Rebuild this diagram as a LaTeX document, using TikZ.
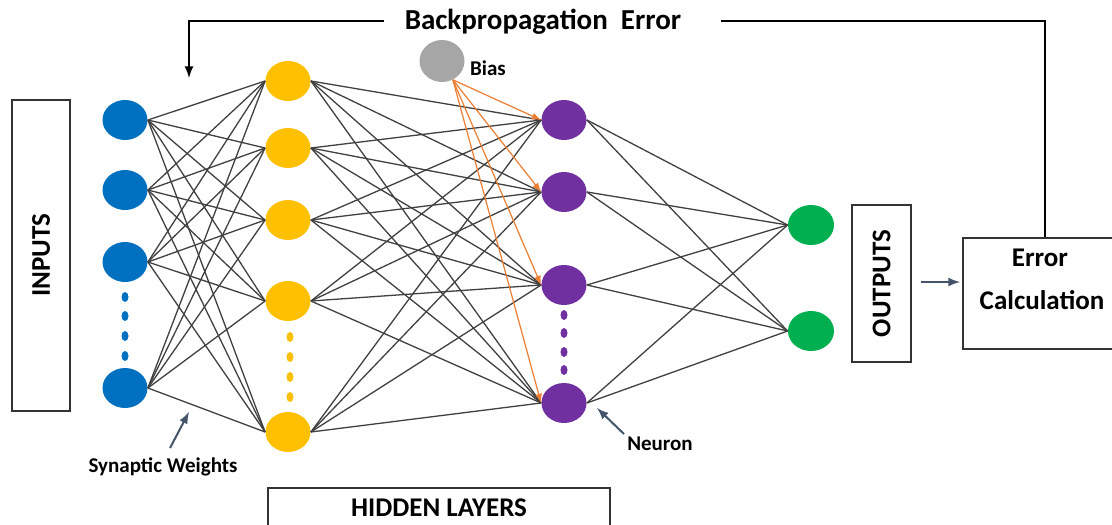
\documentclass[tikz,border=0pt]{standalone}
\usepackage{fontspec}
\setmainfont{Carlito}
\definecolor{inblue}{RGB}{0,112,192}
\definecolor{hidyellow}{RGB}{255,192,0}
\definecolor{hidpurple}{RGB}{112,48,160}
\definecolor{outgreen}{RGB}{0,176,80}
\definecolor{biasgray}{RGB}{166,166,166}
\definecolor{biasorange}{RGB}{237,125,49}
\definecolor{slate}{RGB}{68,84,106}
\usetikzlibrary{arrows}
\usetikzlibrary{shapes.geometric}

\begin{document}
\begin{tikzpicture}[
      x=.5pt, y=-.5pt,
      every node/.style={font=\bfseries},
      unit/.style={ellipse, minimum width=22.5pt, minimum height=20pt, inner sep=0pt},
      box/.style={draw=black!80, line width=.6pt, inner sep=0pt},
      weight/.style={black!75, line width=.65pt},
      pointer/.style={slate, line width=1pt, -latex},
      feedback/.style={black, line width=1pt}]

        \useasboundingbox (0,0) rectangle (1112,524);

        % inputs
        \node[unit, fill=inblue] (i1) at (125,120) {};
        \node[unit, fill=inblue] (i2) at (125,190) {};
        \node[unit, fill=inblue] (i3) at (125,262) {};
        \node[unit, fill=inblue] (i4) at (125,388) {};

        % first hidden layer
        \node[unit, fill=hidyellow] (h1) at (288,81) {};
        \node[unit, fill=hidyellow] (h2) at (288,148) {};
        \node[unit, fill=hidyellow] (h3) at (288,220) {};
        \node[unit, fill=hidyellow] (h4) at (288,301) {};
        \node[unit, fill=hidyellow] (h5) at (288,432) {};

        % second hidden layer
        \node[unit, fill=hidpurple] (n1) at (564,120) {};
        \node[unit, fill=hidpurple] (n2) at (564,192) {};
        \node[unit, fill=hidpurple] (n3) at (564,285) {};
        \node[unit, fill=hidpurple] (n4) at (564,403) {};

        % outputs
        \node[unit, fill=outgreen, minimum width=23pt] (o1) at (811,225) {};
        \node[unit, fill=outgreen, minimum width=23pt] (o2) at (811,331) {};

        \node[unit, fill=biasgray, minimum height=21pt] (bias) at (442,61) {};

        \foreach \y in {297,316,336,356}
          \fill[inblue] (125,\y) ellipse (3.5 and 5);
        \foreach \y in {337,357,377,397}
          \fill[hidyellow] (290,\y) ellipse (3.5 and 5);
        \foreach \y in {315,333,352,370}
          \fill[hidpurple] (564,\y) ellipse (3.5 and 5);

        \foreach \a in {i1,i2,i3,i4}
          \foreach \b in {h1,h2,h3,h4,h5}
            \draw[weight] (\a.east) -- (\b.west);

        \foreach \a in {h1,h2,h3,h4,h5}
          \foreach \b in {n1,n2,n3,n4}
            \draw[weight] (\a.east) -- (\b.west);

        \foreach \a in {n1,n2,n3,n4}
          \foreach \b in {o1,o2}
            \draw[weight] (\a.east) -- (\b.west);

        % bias
        \foreach \b in {n1,n2,n3,n4}
          \draw[biasorange, line width=.6pt, -latex] (bias.-60) -- (\b.west);

        {\fontsize{10.5}{12}\selectfont
        \node (biaslbl) at (488,68) {Bias};
        \node (synw) at (163,467) {Synaptic Weights};
        \node (neuron) at (660,444) {Neuron};
        }

        {\fontsize{13.5}{16}\selectfont
        \node[box, rotate=90, minimum width=155.5pt, minimum height=29pt] (inputs) at (41,255.5) {INPUTS};
        \node[box, rotate=90, minimum width=78.5pt, minimum height=29.5pt] (outputs) at (881.5,283.5) {OUTPUTS};
        \node[box, minimum width=171pt, minimum height=20pt] (hidden) at (439,508) {HIDDEN LAYERS};
        \node[box, minimum width=82pt, minimum height=55.5pt] (errbox) at (1045,293.5) {};
        \node (err) at (1040,258) {Error};
        \node (calc) at (1042,300) {Calculation};
        }

        {\fontsize{14.5}{16}\selectfont
        \node (bp) at (543,22) {Backpropagation~~Error};
        }

        \coordinate (fbl) at (384,21);
        \coordinate (fbdown) at (189,78);
        \coordinate (fbr) at (721,21);
        \draw[feedback, -latex] (fbl) -| (fbdown);
        \draw[feedback] (fbr) -| (errbox.north);

        \coordinate (ot) at (921,282);
        \coordinate (oh) at (960,282);
        \draw[pointer] (ot) -- (oh);
        \coordinate (swt) at (170,448);
        \coordinate (swh) at (189,412);
        \draw[pointer] (swt) -- (swh);
        \coordinate (nt) at (624,434);
        \coordinate (nh) at (597,408);
        \draw[pointer] (nt) -- (nh);

      \end{tikzpicture}
\end{document}
